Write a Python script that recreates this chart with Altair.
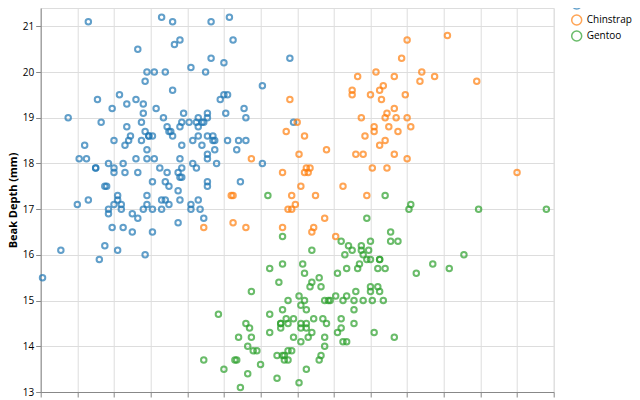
import altair as alt
import pandas as pd

adelie_len = [39.1, 39.5, 40.3, 36.7, 39.3, 38.9, 39.2, 34.1, 42.0, 37.8, 37.8, 41.1, 38.6, 34.6, 36.6, 38.7, 42.5, 34.4, 46.0, 37.8,
              37.7, 35.9, 38.2, 38.8, 35.3, 40.6, 40.5, 37.9, 40.5, 39.5, 37.2, 39.5, 40.9, 36.4, 39.2, 38.8, 42.2, 37.6, 39.8, 36.5,
              40.8, 36.0, 44.1, 37.0, 39.6, 41.1, 37.5, 36.0, 42.3, 39.6, 40.1, 35.0, 42.0, 34.5, 41.4, 39.0, 40.6, 36.5, 37.6, 35.7,
              41.3, 37.6, 41.1, 36.4, 41.6, 35.5, 41.1, 35.9, 41.8, 33.5, 39.7, 39.6, 45.8, 35.5, 42.8, 40.9, 37.2, 36.2, 42.1, 34.6,
              42.9, 36.7, 35.1, 37.3, 41.3, 36.3, 36.9, 38.3, 38.9, 35.7, 41.1, 34.0, 39.6, 36.2, 40.8, 38.1, 40.3, 33.1, 43.2, 35.0,
              41.0, 37.7, 37.8, 37.9, 39.7, 38.6, 38.2, 38.1, 43.2, 38.1, 45.6, 39.7, 42.2, 39.6, 42.7, 38.6, 37.3, 35.7, 41.1, 36.2,
              37.7, 40.2, 41.4, 35.2, 40.6, 38.8, 41.5, 39.0, 44.1, 38.5, 43.1, 36.8, 37.5, 38.1, 41.1, 35.6, 40.2, 37.0, 39.7, 40.2,
              40.6, 32.1, 40.7, 37.3, 39.0, 39.2, 36.6, 36.0, 37.8, 36.0, 41.5]
adelie_dep = [18.7, 17.4, 18.0, 19.3, 20.6, 17.8, 19.6, 18.1, 20.2, 17.1, 17.3, 17.6, 21.2, 21.1, 17.8, 19.0, 20.7, 18.4, 21.5, 18.3,
              18.7, 19.2, 18.1, 17.2, 18.9, 18.6, 17.9, 18.6, 18.9, 16.7, 18.1, 17.8, 18.9, 17.0, 21.1, 20.0, 18.5, 19.3, 19.1, 18.0,
              18.4, 18.5, 19.7, 16.9, 18.8, 19.0, 18.9, 17.9, 21.2, 17.7, 18.9, 17.9, 19.5, 18.1, 18.6, 17.5, 18.8, 16.6, 19.1, 16.9,
              21.1, 17.0, 18.2, 17.1, 18.0, 16.2, 19.1, 16.6, 19.4, 19.0, 18.4, 17.2, 18.9, 17.5, 18.5, 16.8, 19.4, 16.1, 19.1, 17.2,
              17.6, 18.8, 19.4, 17.8, 20.3, 19.5, 18.6, 19.2, 18.8, 18.0, 18.1, 17.1, 18.1, 17.3, 18.9, 18.6, 18.5, 16.1, 18.5, 17.9,
              20.0, 16.0, 20.0, 18.6, 18.9, 17.2, 20.0, 17.0, 19.0, 16.5, 20.3, 17.7, 19.5, 20.7, 18.3, 17.0, 20.5, 17.0, 18.6, 17.2,
              19.8, 17.0, 18.5, 15.9, 19.0, 17.6, 18.3, 17.1, 18.0, 17.9, 19.2, 18.5, 18.5, 17.6, 17.5, 17.5, 20.1, 16.5, 17.9, 17.1,
              17.2, 15.5, 17.0, 16.8, 18.7, 18.6, 18.4, 17.8, 18.1, 17.1, 18.5]

chinstrap_len = [46.5, 50.0, 51.3, 45.4, 52.7, 45.2, 46.1, 51.3, 46.0, 51.3, 46.6, 51.7, 47.0, 52.0, 45.9, 50.5, 50.3, 58.0, 46.4, 49.2,
                 42.4, 48.5, 43.2, 50.6, 46.7, 52.0, 50.5, 49.5, 46.4, 52.8, 40.9, 54.2, 42.5, 51.0, 49.7, 47.5, 47.6, 52.0, 46.9, 53.5,
                 49.0, 46.2, 50.9, 45.5, 50.9, 50.8, 50.1, 49.0, 51.5, 49.8, 48.1, 51.4, 45.7, 50.7, 42.5, 52.2, 45.2, 49.3, 50.2, 45.6,
                 51.9, 46.8, 45.7, 55.8, 43.5, 49.6, 50.8, 50.2]
chinstrap_dep = [17.9, 19.5, 19.2, 18.7, 19.8, 17.8, 18.2, 18.2, 18.9, 19.9, 17.8, 20.3, 17.3, 18.1, 17.1, 19.6, 20.0, 17.8, 18.6, 18.2,
                 17.3, 17.5, 16.6, 19.4, 17.9, 19.0, 18.4, 19.0, 17.8, 20.0, 16.6, 20.8, 16.7, 18.8, 18.6, 16.8, 18.3, 20.7, 16.6, 19.9,
                 19.5, 17.5, 19.1, 17.0, 17.9, 18.5, 17.9, 19.6, 18.7, 17.3, 16.4, 19.0, 17.3, 19.7, 17.3, 18.8, 16.6, 19.9, 18.8, 19.4,
                 19.5, 16.5, 17.0, 19.8, 18.1, 18.2, 19.0, 18.7]

gentoo_len = [46.1, 50.0, 48.7, 50.0, 47.6, 46.5, 45.4, 46.7, 43.3, 46.8, 40.9, 49.0, 45.5, 48.4, 45.8, 49.3, 42.0, 49.2, 46.2, 48.7,
              50.2, 45.1, 46.5, 46.3, 42.9, 46.1, 44.5, 47.8, 48.2, 50.0, 47.3, 42.8, 45.1, 59.6, 49.1, 48.4, 42.6, 44.4, 44.0, 48.7,
              42.7, 49.6, 45.3, 49.6, 50.5, 43.6, 45.5, 50.5, 44.9, 45.2, 46.6, 48.5, 45.1, 50.1, 46.5, 45.0, 43.8, 45.5, 43.2, 50.4,
              45.3, 46.2, 45.7, 54.3, 45.8, 49.8, 46.2, 49.5, 43.5, 50.7, 47.7, 46.4, 48.2, 46.5, 46.4, 48.6, 47.5, 51.1, 45.2, 45.2,
              49.1, 52.5, 47.4, 50.0, 44.9, 50.8, 43.4, 51.3, 47.5, 52.1, 47.5, 52.2, 45.5, 49.5, 44.5, 50.8, 49.4, 46.9, 48.4, 51.1,
              48.5, 55.9, 47.2, 49.1, 47.3, 46.8, 41.7, 53.4, 43.3, 48.1, 50.5, 49.8, 43.5, 51.5, 46.2, 55.1, 44.5, 48.8, 47.2, 46.8,
              50.4, 45.2, 49.9]
gentoo_dep = [13.2, 16.3, 14.1, 15.2, 14.5, 13.5, 14.6, 15.3, 13.4, 15.4, 13.7, 16.1, 13.7, 14.6, 14.6, 15.7, 13.5, 15.2, 14.5, 15.1,
              14.3, 14.5, 14.5, 15.8, 13.1, 15.1, 14.3, 15.0, 14.3, 15.3, 15.3, 14.2, 14.5, 17.0, 14.8, 16.3, 13.7, 17.3, 13.6, 15.7,
              13.7, 16.0, 13.7, 15.0, 15.9, 13.9, 13.9, 15.9, 13.3, 15.8, 14.2, 14.1, 14.4, 15.0, 14.4, 15.4, 13.9, 15.0, 14.5, 15.3,
              13.8, 14.9, 13.9, 15.7, 14.2, 16.8, 14.4, 16.2, 14.2, 15.0, 15.0, 15.6, 15.6, 14.8, 15.0, 16.0, 14.2, 16.3, 13.8, 16.4,
              14.5, 15.6, 14.6, 15.9, 13.8, 17.3, 14.4, 14.2, 14.0, 17.0, 15.0, 17.1, 14.5, 16.1, 14.7, 15.7, 15.8, 14.6, 14.4, 16.5,
              15.0, 17.0, 15.5, 15.0, 13.8, 16.1, 14.7, 15.8, 14.0, 15.1, 15.2, 15.9, 15.2, 16.3, 14.1, 16.0, 15.7, 16.2, 13.7, 14.3,
              15.7, 14.8, 16.1]

species = ["Adelie", "Chinstrap", "Gentoo"]
colors = ["#1f77b4", "#ff7f0e", "#2ca02c"]

rows = []
for name, ls, ds in [("Adelie", adelie_len, adelie_dep),
                     ("Chinstrap", chinstrap_len, chinstrap_dep),
                     ("Gentoo", gentoo_len, gentoo_dep)]:
    for l, d in zip(ls, ds):
        rows.append({"Beak Length (mm)": l, "Beak Depth (mm)": d, "Species": name})
df = pd.DataFrame(rows)

x_ticks = list(range(32, 61, 2))
y_ticks = list(range(13, 22))

chart = alt.Chart(df).mark_point(filled=False, size=30, strokeWidth=2, opacity=0.7).encode(
    x=alt.X("Beak Length (mm):Q", scale=alt.Scale(domain=[32, 60], nice=False, zero=False),
            axis=alt.Axis(values=x_ticks)),
    y=alt.Y("Beak Depth (mm):Q", scale=alt.Scale(domain=[13, 21.4], nice=False, zero=False),
            axis=alt.Axis(values=y_ticks)),
    color=alt.Color("Species:N", scale=alt.Scale(domain=species, range=colors),
                    legend=alt.Legend(orient="none", legendX=530, legendY=-10, title=None,
                                      rowPadding=0)),
).properties(
    width=513, height=384,
    autosize=alt.AutoSizeParams(type="none"),
    padding={"left": 32.7, "top": 0, "right": 78.3, "bottom": 8},
).configure(
    font="Open Sans",
)

chart.save("out.html", embed_options={"renderer": "svg", "actions": False})
